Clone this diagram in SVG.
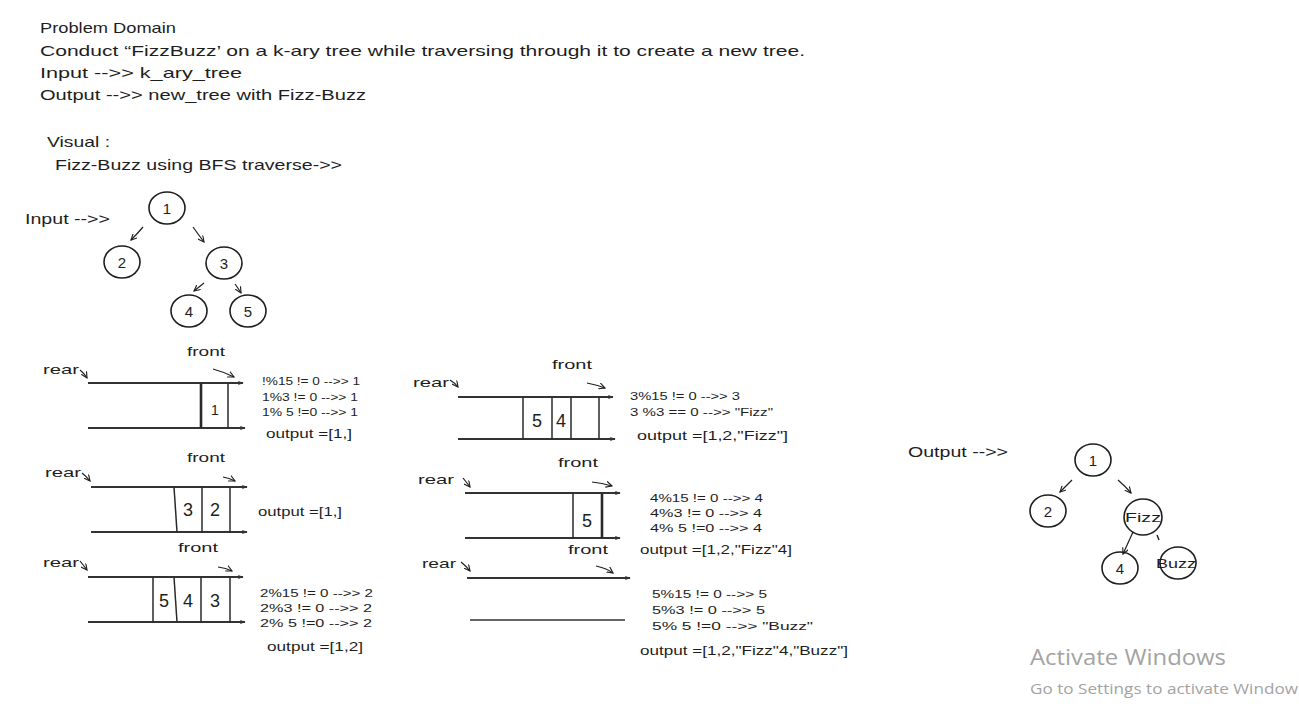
<svg xmlns="http://www.w3.org/2000/svg" width="1299" height="728" viewBox="0 0 1299 728">
<style>
.t{font-family:"Liberation Sans",Arial,sans-serif;fill:#1e1e1e}
.h{font-size:15px}
.s{font-size:11.5px}
.o{font-size:12.5px}
.lbl{font-size:13px}
.num{font-size:18px;text-anchor:middle}
.nn{font-size:15px;text-anchor:middle}
.node ellipse{fill:none;stroke:#1e1e1e;stroke-width:1.6}
.conn path{fill:none;stroke:#1e1e1e;stroke-width:1.2;marker-end:url(#ah)}
.q line{stroke:#2a2a2a;stroke-width:1.5}
.q .rail{stroke:#333;stroke-width:1.8}
.wm{font-family:"Open Sans","Noto Sans",sans-serif;fill:#a3a3a3}
</style>
<defs>
<marker id="ah" viewBox="0 0 8 8" refX="7" refY="4" markerWidth="7" markerHeight="7" orient="auto" markerUnits="userSpaceOnUse">
<path d="M0,0.5 L7,4 L0,7.5" fill="none" stroke="#1e1e1e" stroke-width="1.3"/>
</marker>
<marker id="tip" viewBox="0 0 8 6" refX="7" refY="3" markerWidth="6" markerHeight="4" orient="auto" markerUnits="userSpaceOnUse">
<path d="M0,0 L8,3 L0,6 Z" fill="#333"/>
</marker>
</defs>
<rect width="1299" height="728" fill="#ffffff"/>

<g id="header" class="t h">
<text x="40" y="33" textLength="136" lengthAdjust="spacingAndGlyphs">Problem Domain</text>
<text x="40" y="56" textLength="765" lengthAdjust="spacingAndGlyphs">Conduct “FizzBuzz’ on a k-ary tree while traversing through it to create a new tree.</text>
<text x="40" y="78" textLength="202" lengthAdjust="spacingAndGlyphs">Input --&gt;&gt; k_ary_tree</text>
<text x="40" y="100" textLength="326" lengthAdjust="spacingAndGlyphs">Output --&gt;&gt; new_tree with Fizz-Buzz</text>
<text x="47" y="147" textLength="63" lengthAdjust="spacingAndGlyphs">Visual :</text>
<text x="55" y="170" textLength="287" lengthAdjust="spacingAndGlyphs">Fizz-Buzz using BFS traverse-&gt;&gt;</text>
</g>

<g id="input-label" class="t h"><text x="25" y="224" textLength="85" lengthAdjust="spacingAndGlyphs">Input --&gt;&gt;</text></g>

<g id="in-node-1" class="node"><ellipse cx="167" cy="208" rx="18" ry="16"/><text class="t nn" x="167" y="214">1</text></g>
<g id="in-node-2" class="node"><ellipse cx="122" cy="262" rx="18" ry="16"/><text class="t nn" x="122" y="268">2</text></g>
<g id="in-node-3" class="node"><ellipse cx="224" cy="263" rx="18" ry="16"/><text class="t nn" x="224" y="269">3</text></g>
<g id="in-node-4" class="node"><ellipse cx="189" cy="311" rx="18" ry="16"/><text class="t nn" x="189" y="317">4</text></g>
<g id="in-node-5" class="node"><ellipse cx="248" cy="311" rx="18" ry="16"/><text class="t nn" x="248" y="317">5</text></g>

<g id="output-label" class="t h"><text x="908" y="457" textLength="100" lengthAdjust="spacingAndGlyphs">Output --&gt;&gt;</text></g>

<g id="out-node-1" class="node"><ellipse cx="1093" cy="460" rx="18" ry="16"/><text class="t nn" x="1093" y="466">1</text></g>
<g id="out-node-2" class="node"><ellipse cx="1048" cy="511" rx="18" ry="16"/><text class="t nn" x="1048" y="517">2</text></g>
<g id="out-node-fizz" class="node"><ellipse cx="1143" cy="517" rx="19" ry="18"/><text class="t lbl" x="1125" y="522" textLength="36" lengthAdjust="spacingAndGlyphs">Fizz</text></g>
<g id="out-node-4" class="node"><ellipse cx="1120" cy="568" rx="18" ry="16"/><text class="t nn" x="1120" y="574">4</text></g>
<g id="out-node-buzz" class="node"><ellipse cx="1178" cy="563" rx="18" ry="16"/><text class="t lbl" x="1156" y="568" textLength="40" lengthAdjust="spacingAndGlyphs">Buzz</text></g>
<path d="M1157,535 L1159,540" stroke="#1e1e1e" stroke-width="1.4" fill="none"/>

<g id="connectors" class="conn">
<path d="M143,227 Q138,233 131,240"/>
<path d="M193,227 Q198,234 204,242"/>
<path d="M204,283 Q199,287 194,291"/>
<path d="M235,284 Q238,288 241,293"/>
<path d="M1072,480 Q1066,486 1060,492"/>
<path d="M1118,480 Q1125,486 1131,493"/>
<path d="M1133,532 Q1128,543 1123,554"/>
</g>

<g id="queue-1" class="q">
<text class="t lbl" x="187" y="356" textLength="38" lengthAdjust="spacingAndGlyphs">front</text>
<text class="t lbl" x="43" y="374" textLength="36" lengthAdjust="spacingAndGlyphs">rear</text>
<g class="conn"><path d="M80,370 Q84,373 87,378"/><path d="M213,369 Q224,372 234,377"/></g>
<line class="rail" x1="88" y1="383" x2="243" y2="383" marker-end="url(#tip)"/>
<line class="rail" x1="88" y1="428" x2="245" y2="428" marker-end="url(#tip)"/>
<line x1="201" y1="383" x2="201" y2="428" style="stroke-width:2.6"/>
<line x1="228" y1="383" x2="228" y2="428"/>
<text class="t nn" x="215" y="415" style="font-size:14px">1</text>
<text class="t s" x="262" y="385" textLength="98" lengthAdjust="spacingAndGlyphs">!%15 != 0 --&gt;&gt; 1</text>
<text class="t s" x="262" y="401" textLength="96" lengthAdjust="spacingAndGlyphs">1%3 != 0 --&gt;&gt; 1</text>
<text class="t s" x="262" y="416" textLength="96" lengthAdjust="spacingAndGlyphs">1% 5 !=0 --&gt;&gt; 1</text>
<text class="t o" x="266" y="438" textLength="86" lengthAdjust="spacingAndGlyphs">output =[1,]</text>
</g>

<g id="queue-2" class="q">
<text class="t lbl" x="187" y="462" textLength="38" lengthAdjust="spacingAndGlyphs">front</text>
<text class="t lbl" x="45" y="477" textLength="36" lengthAdjust="spacingAndGlyphs">rear</text>
<g class="conn"><path d="M82,473 Q86,476 90,481"/><path d="M223,477 Q229,478 235,481"/></g>
<line class="rail" x1="91" y1="487" x2="247" y2="487" marker-end="url(#tip)"/>
<line class="rail" x1="91" y1="532" x2="247" y2="532" marker-end="url(#tip)"/>
<line x1="174" y1="487" x2="177" y2="532"/>
<line x1="202" y1="487" x2="202" y2="532"/>
<line x1="230" y1="487" x2="230" y2="532"/>
<text class="t num" x="188" y="516">3</text>
<text class="t num" x="215" y="516">2</text>
<text class="t o" x="258" y="516" textLength="84" lengthAdjust="spacingAndGlyphs">output =[1,]</text>
</g>

<g id="queue-3" class="q">
<text class="t lbl" x="178" y="552" textLength="40" lengthAdjust="spacingAndGlyphs">front</text>
<text class="t lbl" x="43" y="567" textLength="36" lengthAdjust="spacingAndGlyphs">rear</text>
<g class="conn"><path d="M80,561 Q84,566 87,570"/><path d="M218,567 Q226,568 232,571"/></g>
<line class="rail" x1="88" y1="577" x2="243" y2="577" marker-end="url(#tip)"/>
<line class="rail" x1="88" y1="622" x2="245" y2="622" marker-end="url(#tip)"/>
<line x1="153" y1="577" x2="153" y2="622"/>
<line x1="174" y1="577" x2="177" y2="622"/>
<line x1="201" y1="577" x2="201" y2="622"/>
<line x1="230" y1="577" x2="230" y2="622"/>
<text class="t num" x="164" y="607">5</text>
<text class="t num" x="188" y="607">4</text>
<text class="t num" x="215" y="607">3</text>
<text class="t s" x="260" y="597" textLength="113" lengthAdjust="spacingAndGlyphs">2%15 != 0 --&gt;&gt; 2</text>
<text class="t s" x="260" y="612" textLength="112" lengthAdjust="spacingAndGlyphs">2%3 != 0 --&gt;&gt; 2</text>
<text class="t s" x="260" y="627" textLength="112" lengthAdjust="spacingAndGlyphs">2% 5 !=0 --&gt;&gt; 2</text>
<text class="t o" x="267" y="651" textLength="96" lengthAdjust="spacingAndGlyphs">output =[1,2]</text>
</g>

<g id="queue-4" class="q">
<text class="t lbl" x="552" y="369" textLength="40" lengthAdjust="spacingAndGlyphs">front</text>
<text class="t lbl" x="413" y="387" textLength="36" lengthAdjust="spacingAndGlyphs">rear</text>
<g class="conn"><path d="M450,380 Q455,383 458,387"/><path d="M587,383 Q597,385 605,388"/></g>
<line class="rail" x1="458" y1="397" x2="613" y2="397" marker-end="url(#tip)"/>
<line class="rail" x1="458" y1="439" x2="615" y2="439" marker-end="url(#tip)"/>
<line x1="523" y1="397" x2="523" y2="439"/>
<line x1="552" y1="397" x2="552" y2="439"/>
<line x1="571" y1="397" x2="571" y2="439"/>
<line x1="599" y1="397" x2="599" y2="439"/>
<text class="t num" x="537" y="427">5</text>
<text class="t num" x="561" y="427">4</text>
<text class="t s" x="630" y="400" textLength="110" lengthAdjust="spacingAndGlyphs">3%15 != 0 --&gt;&gt; 3</text>
<text class="t s" x="630" y="416" textLength="143" lengthAdjust="spacingAndGlyphs">3 %3 == 0 --&gt;&gt; "Fizz"</text>
<text class="t o" x="637" y="440" textLength="151" lengthAdjust="spacingAndGlyphs">output =[1,2,"Fizz"]</text>
</g>

<g id="queue-5" class="q">
<text class="t lbl" x="558" y="467" textLength="40" lengthAdjust="spacingAndGlyphs">front</text>
<text class="t lbl" x="418" y="484" textLength="36" lengthAdjust="spacingAndGlyphs">rear</text>
<g class="conn"><path d="M463,478 Q467,483 470,487"/><path d="M592,482 Q602,483 612,486"/></g>
<line class="rail" x1="465" y1="493" x2="620" y2="493" marker-end="url(#tip)"/>
<line class="rail" x1="465" y1="538" x2="620" y2="538" marker-end="url(#tip)"/>
<line x1="573" y1="493" x2="573" y2="538"/>
<line x1="602" y1="493" x2="602" y2="538" style="stroke-width:2.6"/>
<text class="t num" x="587" y="527">5</text>
<text class="t s" x="650" y="502" textLength="113" lengthAdjust="spacingAndGlyphs">4%15 != 0 --&gt;&gt; 4</text>
<text class="t s" x="650" y="517" textLength="112" lengthAdjust="spacingAndGlyphs">4%3 != 0 --&gt;&gt; 4</text>
<text class="t s" x="650" y="532" textLength="112" lengthAdjust="spacingAndGlyphs">4% 5 !=0 --&gt;&gt; 4</text>
<text class="t o" x="640" y="554" textLength="152" lengthAdjust="spacingAndGlyphs">output =[1,2,"Fizz"4]</text>
</g>

<g id="queue-6" class="q">
<text class="t lbl" x="568" y="554" textLength="40" lengthAdjust="spacingAndGlyphs">front</text>
<text class="t lbl" x="422" y="568" textLength="34" lengthAdjust="spacingAndGlyphs">rear</text>
<g class="conn"><path d="M461,562 Q466,566 470,571"/><path d="M596,566 Q606,568 613,573"/></g>
<line class="rail" x1="467" y1="578" x2="630" y2="578" marker-end="url(#tip)"/>
<line class="rail" x1="470" y1="620" x2="625" y2="620" style="stroke:#666;stroke-width:2.2"/>
<text class="t s" x="652" y="598" textLength="115" lengthAdjust="spacingAndGlyphs">5%15 != 0 --&gt;&gt; 5</text>
<text class="t s" x="652" y="614" textLength="113" lengthAdjust="spacingAndGlyphs">5%3 != 0 --&gt;&gt; 5</text>
<text class="t s" x="652" y="630" textLength="161" lengthAdjust="spacingAndGlyphs">5% 5 !=0 --&gt;&gt; "Buzz"</text>
<text class="t o" x="640" y="655" textLength="208" lengthAdjust="spacingAndGlyphs">output =[1,2,"Fizz"4,"Buzz"]</text>
</g>

<g id="watermark">
<text class="wm" x="1030" y="665" style="font-size:22px" textLength="196" lengthAdjust="spacingAndGlyphs">Activate Windows</text>
<text class="wm" x="1030" y="694" style="font-size:15px" textLength="268" lengthAdjust="spacingAndGlyphs">Go to Settings to activate Window</text>
</g>
</svg>
